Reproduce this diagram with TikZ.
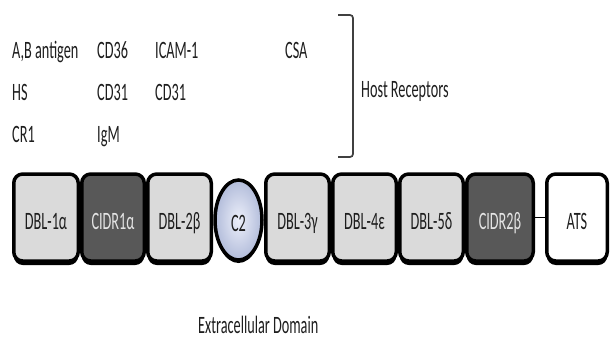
\documentclass[tikz,border=0pt]{standalone}
\usepackage{fontspec}
\setmainfont{Carlito}
\usepackage{graphicx}
\usetikzlibrary{shadows,shapes.geometric}
\definecolor{lgray}{RGB}{218,218,218}
\definecolor{dgray}{RGB}{88,88,88}
\definecolor{txt}{RGB}{30,30,30}
\definecolor{ctxt}{RGB}{228,228,228}
\definecolor{cin}{RGB}{236,239,250}
\definecolor{cout}{RGB}{178,188,218}
\newcommand\nrw[1]{\scalebox{0.57}[1]{#1}}
\begin{document}
\begin{tikzpicture}[x=1pt,y=-1pt,
  lbl/.style={anchor=base west, inner sep=0pt, text=txt, font=\fontsize{25}{29}\selectfont},
  dom/.style={rectangle, rounded corners=9pt, draw=black, line width=3.5pt,
    minimum height=87pt, inner sep=0pt, text=txt,
    font=\fontsize{25}{29}\selectfont, text height=16pt, text depth=0pt,
    drop shadow={shadow xshift=0pt, shadow yshift=-4pt, fill=black, opacity=1}},
  dbl/.style={dom, fill=lgray},
  cidr/.style={dom, fill=dgray, text=ctxt},
  atsbox/.style={dom, fill=white},
  c2box/.style={ellipse, draw=black, line width=3.5pt, inner sep=0pt,
    minimum width=47pt, minimum height=80pt, text=txt,
    font=\fontsize{25}{29}\selectfont, text height=16pt, text depth=0pt,
    shading=radial, inner color=cin, outer color=cout,
    drop shadow={shadow xshift=0pt, shadow yshift=-3pt, fill=black, opacity=1}},
  brk/.style={draw=black!75, line width=1.7pt, rounded corners=3pt}
]
\useasboundingbox (0,0) rectangle (610,340);

% host receptors
\node[lbl] (ab)    at (12,58)  {\nrw{A,B antigen}};
\node[lbl] (hs)    at (12,100) {\nrw{HS}};
\node[lbl] (cr1)   at (12,142) {\nrw{CR1}};
\node[lbl] (cd36)  at (97,58)  {\nrw{CD36}};
\node[lbl] (cd31a) at (97,100) {\nrw{CD31}};
\node[lbl] (igm)   at (97,142) {\nrw{IgM}};
\node[lbl] (icam)  at (155,58) {\nrw{ICAM-1}};
\node[lbl] (cd31b) at (155,100){\nrw{CD31}};
\node[lbl] (csa)   at (285,58) {\nrw{CSA}};

% bracket
\coordinate (bt) at (338,15);
\coordinate (bb) at (353,157);
\coordinate (be) at (338,157);
\draw[brk] (bt) -| (bb) -- (be);
\node[lbl] (host) at (361,97) {\nrw{Host Receptors}};

% domains
\node[dbl,  minimum width=64.5pt] (d1) at (46,217.5)    {\raisebox{-4pt}{\nrw{DBL-1α}}};
\node[cidr, minimum width=62.5pt] (c1) at (113,217.5)   {\raisebox{-4pt}{\nrw{CIDR1α}}};
\node[dbl,  minimum width=63.5pt] (d2) at (179.5,217.5) {\raisebox{-4pt}{\nrw{DBL-2β}}};
\node[c2box] (c2) at (238.5,220) {\raisebox{-3pt}{\nrw{C2}}};
\node[dbl,  minimum width=63.5pt] (d3) at (297.5,217.5) {\raisebox{-4pt}{\nrw{DBL-3γ}}};
\node[dbl,  minimum width=63.5pt] (d4) at (364.5,217.5) {\raisebox{-4pt}{\nrw{DBL-4ε}}};
\node[dbl,  minimum width=63.5pt] (d5) at (431.5,217.5) {\raisebox{-4pt}{\nrw{DBL-5δ}}};
\node[cidr, minimum width=66.5pt] (c7) at (500,217.5)   {\raisebox{-4pt}{\nrw{CIDR2β}}};
\node[atsbox, minimum width=60.5pt] (ats) at (577,217.5){\raisebox{-4pt}{\nrw{ATS}}};
\draw[line width=1.5pt] (c7.east) -- (ats.west);

\node[lbl] (extra) at (198,333) {\nrw{Extracellular Domain}};
\end{tikzpicture}
\end{document}
